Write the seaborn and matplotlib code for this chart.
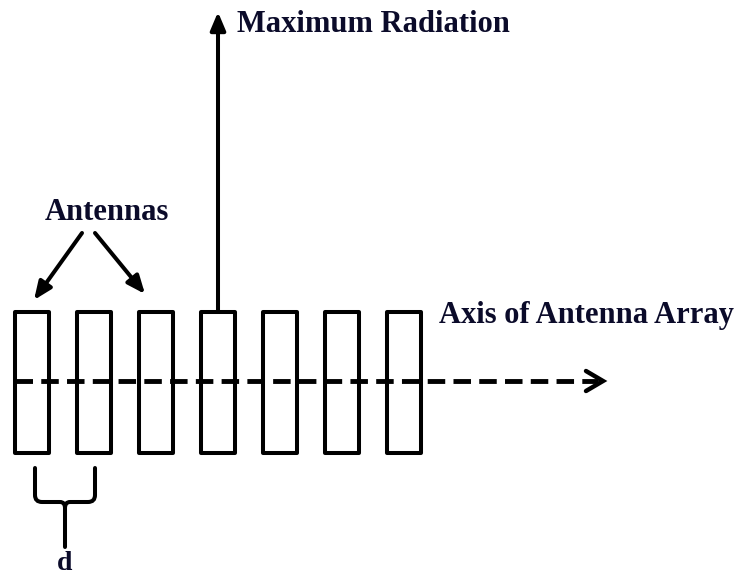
import seaborn as sns
import matplotlib.pyplot as plt
from matplotlib.patches import Rectangle, PathPatch
from matplotlib.path import Path
import pandas as pd

# Diagram content
antennas = [1, 2, 3, 4, 5, 6, 7]
main_element = 4
labels = ['Maximum Radiation', 'Antennas', 'Axis of Antenna Array', 'd']

sns.set_theme(style='white')
plt.rcParams['font.family'] = ['Liberation Serif', 'DejaVu Serif']

fig = plt.figure(figsize=(7.54, 5.80), dpi=100)
ax = fig.add_axes([0, 0, 1, 1])
ax.set_xlim(0, 754)
ax.set_ylim(580, 0)
ax.axis('off')

lw = 2.9
fs = 22
txt_color = '#0b0b2a'

# element geometry (pixels)
x0, pitch, w = 15, 62, 34
top, bottom = 312, 453
centers = [x0 + (i - 1) * pitch + w / 2 for i in antennas]

for c in centers:
    ax.add_patch(Rectangle((c - w / 2, top), w, bottom - top, fill=False,
                           edgecolor='black', lw=lw, joinstyle='round'))

# dashed array axis
axis_df = pd.DataFrame({'x': [15, 598], 'y': [381, 381]})
sns.lineplot(data=axis_df, x='x', y='y', ax=ax, color='black', lw=lw + 0.6,
             linestyle=(0, (3.6, 1.7)), legend=False)
ax.plot([586, 603, 586], [371, 381, 391], color='black', lw=lw + 0.3,
        solid_capstyle='round', solid_joinstyle='miter')

# maximum radiation arrow
mc = centers[main_element - 1]
ax.annotate('', xy=(mc, 12), xytext=(mc, top),
            arrowprops=dict(arrowstyle='-|>,head_length=0.9,head_width=0.38',
                            color='black', lw=lw, shrinkA=0, shrinkB=0))
ax.text(mc + 19, 25, labels[0], fontsize=fs, fontweight='bold',
        color=txt_color, va='center', ha='left')

# antennas label with arrows
ax.text(107, 212, labels[1], fontsize=fs, fontweight='bold',
        color=txt_color, va='center', ha='center')
for start, end in [((82, 233), (34, 300)), ((95, 233), (145, 294))]:
    ax.annotate('', xy=end, xytext=start,
                arrowprops=dict(arrowstyle='-|>,head_length=0.9,head_width=0.38',
                                color='black', lw=lw, shrinkA=0, shrinkB=0))

ax.text(439, 315, labels[2], fontsize=fs, fontweight='bold',
        color=txt_color, va='center', ha='left')

# spacing brace
lx, rx = centers[0] + 3, centers[1] + 1
mx = (lx + rx) / 2
verts = [(lx, 468), (lx, 495), (lx, 502), (lx + 7, 502), (mx - 5, 502), (mx, 502),
         (mx, 508), (mx, 547)]
codes = [Path.MOVETO, Path.LINETO, Path.CURVE3, Path.CURVE3, Path.LINETO,
         Path.CURVE3, Path.CURVE3, Path.LINETO]
ax.add_patch(PathPatch(Path(verts, codes), fill=False, lw=lw, edgecolor='black',
                       capstyle='round'))
verts2 = [(rx, 468), (rx, 495), (rx, 502), (rx - 7, 502), (mx + 5, 502), (mx, 502),
          (mx, 508)]
codes2 = [Path.MOVETO, Path.LINETO, Path.CURVE3, Path.CURVE3, Path.LINETO,
          Path.CURVE3, Path.CURVE3]
ax.add_patch(PathPatch(Path(verts2, codes2), fill=False, lw=lw, edgecolor='black',
                       capstyle='round'))
ax.text(mx, 564, labels[3], fontsize=20, fontweight='bold',
        color=txt_color, va='center', ha='center')

plt.savefig('out.png', dpi=100)
plt.close()
